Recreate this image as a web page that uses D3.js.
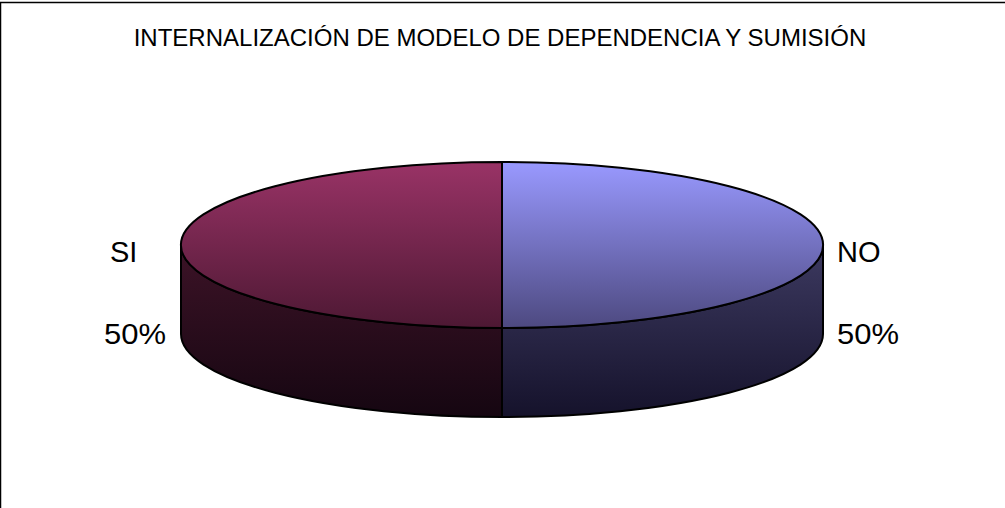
<!DOCTYPE html>
<html>
<head>
<meta charset="utf-8">
<script src="https://cdn.jsdelivr.net/npm/d3@7"></script>
<style>
  body { margin: 0; background: #fff; }
  text { font-family: "Liberation Sans", Arial, sans-serif; fill: #000; }
</style>
</head>
<body>
<svg id="chart" width="1005" height="508"></svg>
<script>
// données du graphique
var categories = ["NO", "SI"];
var values = [50, 50];
var colors = ["#9999ff", "#993366"];
var title = "INTERNALIZACIÓN DE MODELO DE DEPENDENCIA Y SUMISIÓN";

var svg = d3.select("#chart");
var W = 1005, H = 508;

// cadre
svg.append("rect")
    .attr("x", 0.5).attr("y", 2.5)
    .attr("width", W + 10).attr("height", H + 10)
    .attr("fill", "#fff").attr("stroke", "#000").attr("stroke-width", 1.5);

svg.append("text")
    .attr("x", 500).attr("y", 46)
    .attr("text-anchor", "middle")
    .attr("font-size", 24)
    .text(title);

var cx = 502, cy = 245, rx = 321, ry = 83, depth = 89;

var pie = d3.pie().sort(null).value(function(d) { return d; });
var arcs = pie(values);

function pt(a, dy) {
  return [cx + rx * Math.sin(a), cy - ry * Math.cos(a) + (dy || 0)];
}

var defs = svg.append("defs");
categories.forEach(function(c, i) {
  var base = d3.rgb(colors[i]);
  var gTop = defs.append("linearGradient")
      .attr("id", "top" + i)
      .attr("gradientUnits", "userSpaceOnUse")
      .attr("x1", 0).attr("x2", 0).attr("y1", cy - ry).attr("y2", cy + ry);
  gTop.append("stop").attr("offset", "0%").attr("stop-color", base.formatHex());
  gTop.append("stop").attr("offset", "100%").attr("stop-color", d3.rgb(base.r * 0.5, base.g * 0.48, base.b * 0.5).formatHex());
  var gSide = defs.append("linearGradient")
      .attr("id", "side" + i)
      .attr("gradientUnits", "userSpaceOnUse")
      .attr("x1", 0).attr("x2", 0).attr("y1", cy).attr("y2", cy + ry + depth);
  gSide.append("stop").attr("offset", "0%").attr("stop-color", d3.rgb(base.r * 0.4, base.g * 0.38, base.b * 0.38).formatHex());
  gSide.append("stop").attr("offset", "100%").attr("stop-color", d3.rgb(base.r * 0.14, base.g * 0.12, base.b * 0.17).formatHex());
});

var g = svg.append("g");

// côtés visibles (moitié avant)
arcs.forEach(function(d, i) {
  var a0 = Math.max(d.startAngle, Math.PI / 2);
  var a1 = Math.min(d.endAngle, 3 * Math.PI / 2);
  if (a1 <= a0) return;
  var p0 = pt(a0), p1 = pt(a1), q1 = pt(a1, depth), q0 = pt(a0, depth);
  var path = "M" + p0 + "A" + rx + "," + ry + " 0 0 1 " + p1 +
             "L" + q1 + "A" + rx + "," + ry + " 0 0 0 " + q0 + "Z";
  g.append("path")
      .attr("d", path)
      .attr("fill", "url(#side" + i + ")")
      .attr("stroke", "#000").attr("stroke-width", 2)
      .attr("stroke-linejoin", "round");
});

// dessus
arcs.forEach(function(d, i) {
  var p0 = pt(d.startAngle), p1 = pt(d.endAngle);
  var large = (d.endAngle - d.startAngle) > Math.PI ? 1 : 0;
  var path = "M" + cx + "," + cy + "L" + p0 + "A" + rx + "," + ry + " 0 " + large + " 1 " + p1 + "Z";
  g.append("path")
      .attr("d", path)
      .attr("fill", "url(#top" + i + ")")
      .attr("stroke", "#000").attr("stroke-width", 2)
      .attr("stroke-linejoin", "round");
});

// étiquettes
var nameX = [837, 110];
var pctX = [837, 166];
var pctAnchor = ["start", "end"];
categories.forEach(function(c, i) {
  var pct = Math.round(values[i] / d3.sum(values) * 100) + "%";
  svg.append("text")
      .attr("x", nameX[i]).attr("y", 262)
      .attr("text-anchor", "start")
      .attr("font-size", 29)
      .text(c);
  svg.append("text")
      .attr("x", pctX[i]).attr("y", 344)
      .attr("text-anchor", pctAnchor[i])
      .attr("font-size", 29)
      .attr("textLength", 62)
      .attr("lengthAdjust", "spacingAndGlyphs")
      .text(pct);
});
</script>
</body>
</html>
